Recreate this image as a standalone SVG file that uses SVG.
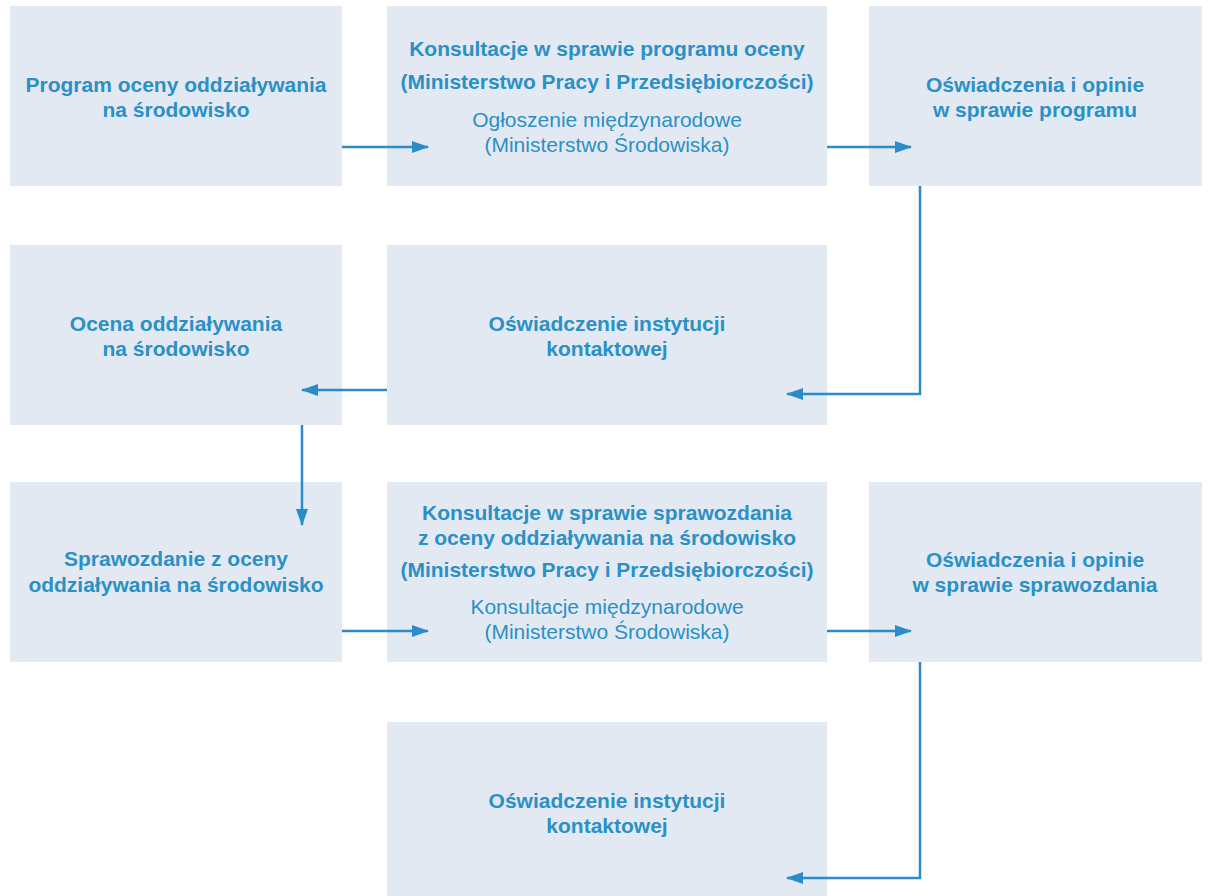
<svg xmlns="http://www.w3.org/2000/svg" width="1208" height="896" viewBox="0 0 1208 896">
<style>
.box{fill:#e2e9f3}
text{font-family:"Liberation Sans",Arial,sans-serif;fill:#2a90c6;text-anchor:middle}
.b{font-weight:bold;font-size:21px}
.n{font-size:21px}
.c{stroke:#2a8cc8;stroke-width:2.5;fill:none}
</style>
<defs>
<marker id="ah" markerWidth="18" markerHeight="12" refX="16" refY="6" orient="auto" markerUnits="userSpaceOnUse">
<path d="M0,0 L17,6 L0,12 Z" fill="#2a8cc8"/>
</marker>
</defs>
<rect width="1208" height="896" fill="#ffffff"/>
<g id="n1"><rect class="box" x="10" y="6" width="332" height="180"/>
<text class="b" x="176" y="92">Program oceny oddziaływania</text>
<text class="b" x="176" y="117">na środowisko</text></g>
<g id="n2"><rect class="box" x="387" y="6" width="440" height="180"/>
<text class="b" x="607" y="56">Konsultacje w sprawie programu oceny</text>
<text class="b" x="607" y="89">(Ministerstwo Pracy i Przedsiębiorczości)</text>
<text class="n" x="607" y="127">Ogłoszenie międzynarodowe</text>
<text class="n" x="607" y="152">(Ministerstwo Środowiska)</text></g>
<g id="n3"><rect class="box" x="869" y="6" width="333" height="180"/>
<text class="b" x="1035" y="92">Oświadczenia i opinie</text>
<text class="b" x="1035" y="117">w sprawie programu</text></g>
<g id="n4"><rect class="box" x="10" y="245" width="332" height="180"/>
<text class="b" x="176" y="331">Ocena oddziaływania</text>
<text class="b" x="176" y="356">na środowisko</text></g>
<g id="n5"><rect class="box" x="387" y="245" width="440" height="180"/>
<text class="b" x="607" y="331">Oświadczenie instytucji</text>
<text class="b" x="607" y="356">kontaktowej</text></g>
<g id="n6"><rect class="box" x="10" y="482" width="332" height="180"/>
<text class="b" x="176" y="566">Sprawozdanie z oceny</text>
<text class="b" x="176" y="592">oddziaływania na środowisko</text></g>
<g id="n7"><rect class="box" x="387" y="482" width="440" height="180"/>
<text class="b" x="607" y="520">Konsultacje w sprawie sprawozdania</text>
<text class="b" x="607" y="545">z oceny oddziaływania na środowisko</text>
<text class="b" x="607" y="577">(Ministerstwo Pracy i Przedsiębiorczości)</text>
<text class="n" x="607" y="614">Konsultacje międzynarodowe</text>
<text class="n" x="607" y="639">(Ministerstwo Środowiska)</text></g>
<g id="n8"><rect class="box" x="869" y="482" width="333" height="180"/>
<text class="b" x="1035" y="567">Oświadczenia i opinie</text>
<text class="b" x="1035" y="592">w sprawie sprawozdania</text></g>
<g id="n9"><rect class="box" x="387" y="722" width="440" height="180"/>
<text class="b" x="607" y="808">Oświadczenie instytucji</text>
<text class="b" x="607" y="833">kontaktowej</text></g>
<g id="connectors">
<path class="c" d="M342,147 H428" marker-end="url(#ah)"/>
<path class="c" d="M827,147 H911" marker-end="url(#ah)"/>
<path class="c" d="M920,186 V394 H787" marker-end="url(#ah)"/>
<path class="c" d="M387,390 H302" marker-end="url(#ah)"/>
<path class="c" d="M302,425 V525" marker-end="url(#ah)"/>
<path class="c" d="M342,631 H428" marker-end="url(#ah)"/>
<path class="c" d="M827,631 H911" marker-end="url(#ah)"/>
<path class="c" d="M920,662 V878 H787" marker-end="url(#ah)"/>
</g>
</svg>
